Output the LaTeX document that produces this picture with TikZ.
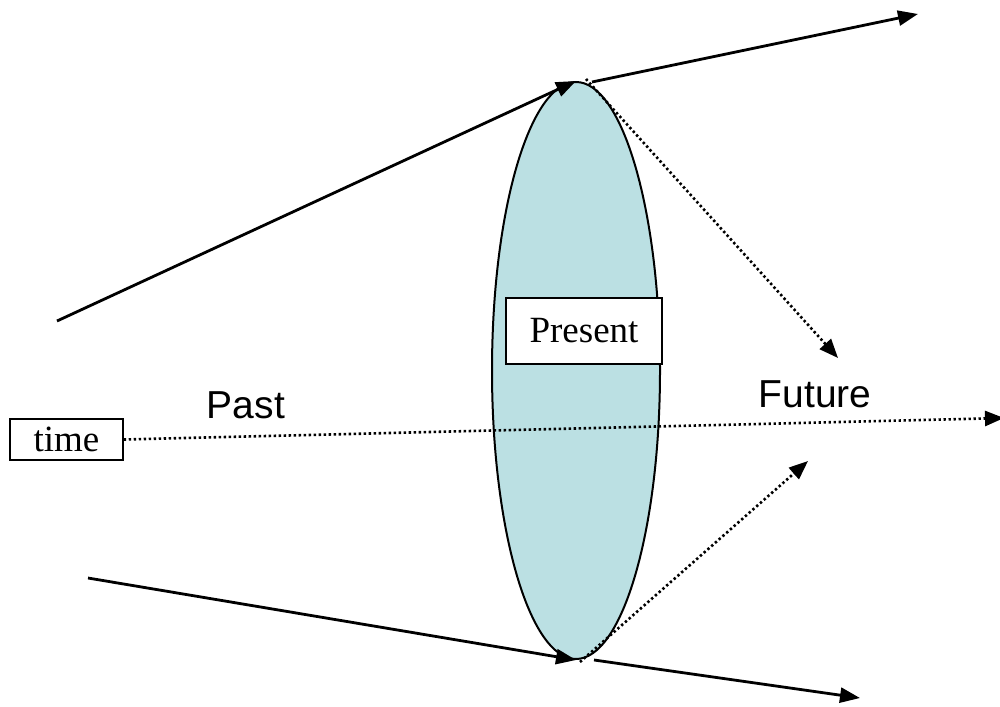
\documentclass[tikz,border=0pt]{standalone}
\usepackage{fontspec}
\setmainfont{Liberation Serif}
\newfontfamily\arialfont{Liberation Sans}
\usetikzlibrary{shapes.geometric,arrows.meta}
\definecolor{lens}{RGB}{187,224,227}
\tikzset{
  solidarrow/.style={line width=2.8pt,-{Triangle[length=20pt,width=15pt]}},
  dotarrow/.style={line width=2.6pt,dash pattern=on 2.4pt off 2.6pt,-{Triangle[length=19pt,width=15pt]}},
  boxlabel/.style={draw,line width=1.5pt,fill=white,inner sep=0pt,font=\fontsize{37}{40}\selectfont},
  sanslabel/.style={font=\arialfont\fontsize{39}{44}\selectfont,inner sep=0pt}
}
\begin{document}
\begin{tikzpicture}[x=1pt,y=-1pt]
\useasboundingbox (0,0) rectangle (1000,706);
\node[ellipse,draw,line width=2pt,fill=lens,minimum width=168pt,minimum height=577pt,inner sep=0pt] (ell) at (576,370.5) {};
\node[boxlabel,minimum width=156pt,minimum height=66pt] (present) at (584,331) {Present};
\node[boxlabel,minimum width=113pt,minimum height=41pt] (time) at (66.5,439.5) {time};
\node[sanslabel] (past) at (246,405) {Past};
\node[sanslabel] (future) at (815,394) {Future};
\coordinate (a1) at (57,321);
\coordinate (b1) at (592,82);
\coordinate (b2) at (918,14);
\coordinate (c1) at (88,578);
\coordinate (d1) at (594,660);
\coordinate (d2) at (860,698);
\coordinate (e1) at (838,358);
\coordinate (f1) at (808,461);
\coordinate (t2) at (1004,418);
\draw[solidarrow] (a1) -- (ell.north);
\draw[solidarrow] (b1) -- (b2);
\draw[solidarrow] (c1) -- (ell.south);
\draw[solidarrow] (d1) -- (d2);
\draw[dotarrow] ([xshift=10pt,yshift=2pt]ell.north) -- (e1);
\draw[dotarrow] ([xshift=4pt,yshift=-2pt]ell.south) -- (f1);
\draw[dotarrow] (time.east) -- (t2);
\end{tikzpicture}
\end{document}
